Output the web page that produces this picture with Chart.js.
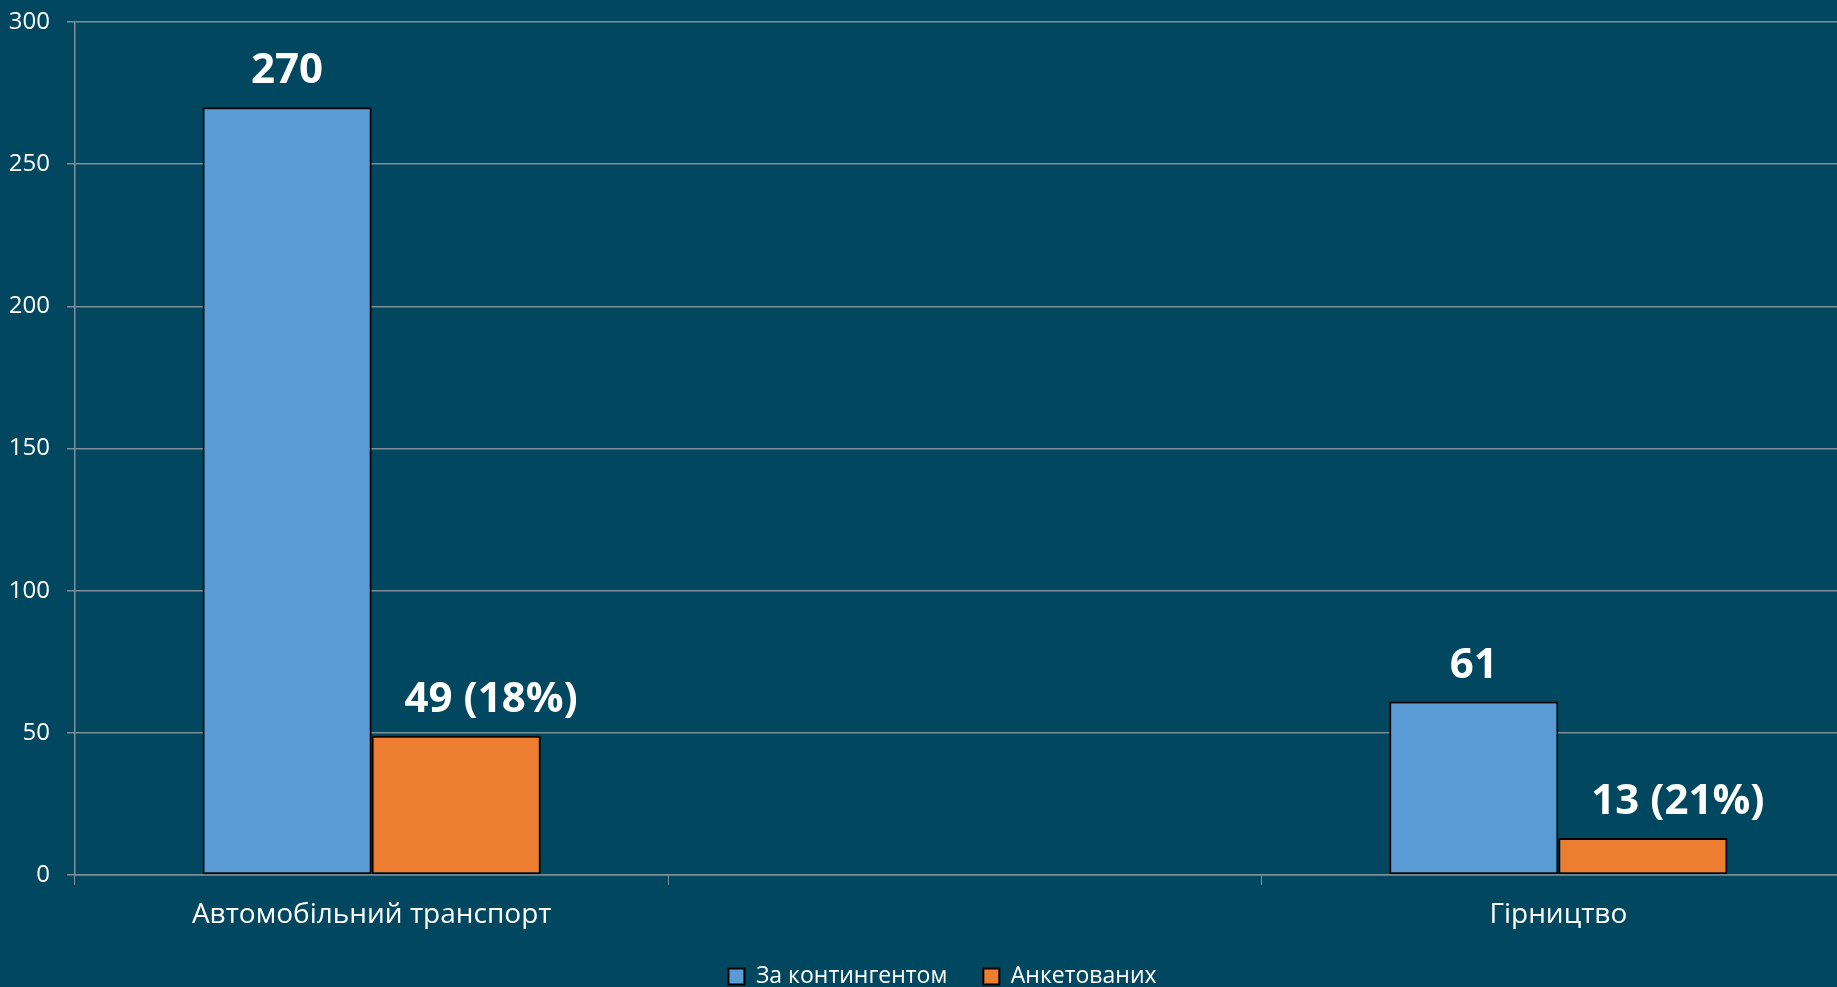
<!DOCTYPE html>
<html>
<head>
<meta charset="utf-8">
<script src="https://cdn.jsdelivr.net/npm/chart.js@4.4.0/dist/chart.umd.min.js"></script>
<style>
  html, body { margin: 0; padding: 0; background: #01475f; overflow: hidden; }
  canvas { display: block; }
</style>
</head>
<body>
<canvas id="chart" width="1855" height="998"></canvas>
<script>
const categories = ["Автомобільний транспорт", "", "Гірництво"];
const contingentValues = [270, null, 61];
const surveyedValues = [49, null, 13];
const yMin = 0;
const yMax = 300;
const yStep = 50;

const gridColor = "#7d8f98";
const font = "'Open Sans', 'Noto Sans', sans-serif";

// value labels above bars, second series gets the share of the first
const barLabels = {
  id: "barLabels",
  afterDatasetsDraw(chart) {
    const ctx = chart.ctx;
    ctx.save();
    ctx.font = "bold 42px " + font;
    ctx.fillStyle = "#ffffff";
    ctx.textAlign = "center";
    ctx.textBaseline = "alphabetic";
    chart.data.datasets.forEach((ds, di) => {
      chart.getDatasetMeta(di).data.forEach((bar, i) => {
        const v = ds.data[i];
        if (v == null) return;
        let text = String(v);
        let shift = 0;
        if (di == 1) {
          text = v + " (" + Math.round((v / contingentValues[i]) * 100) + "%)";
          shift = 35;
        }
        ctx.fillText(text, bar.x + shift, bar.y - 24);
      });
    });
    ctx.restore();
  },
};

// legend sits a bit right of the canvas centre in the original
const legendShift = {
  id: "legendShift",
  afterLayout(chart) {
    chart.legend.left += 15;
    chart.legend.right += 15;
  },
};

new Chart(document.getElementById("chart"), {
  type: "bar",
  data: {
    labels: categories,
    datasets: [
      {
        label: "За контингентом",
        data: contingentValues,
        backgroundColor: "#5b9bd5",
        borderColor: "#000000",
        borderWidth: 2,
        borderSkipped: false,
        categoryPercentage: 0.57,
        barPercentage: 1.0,
      },
      {
        label: "Анкетованих",
        data: surveyedValues,
        backgroundColor: "#ed7d31",
        borderColor: "#000000",
        borderWidth: 2,
        borderSkipped: false,
        categoryPercentage: 0.57,
        barPercentage: 1.0,
      },
    ],
  },
  plugins: [barLabels, legendShift],
  options: {
    responsive: false,
    animation: false,
    layout: { padding: { top: 22, right: 0, left: 0, bottom: 0 } },
    plugins: {
      tooltip: { enabled: false },
      legend: {
        position: "bottom",
        labels: {
          color: "#ffffff",
          font: { family: font, size: 23 },
          boxWidth: 16,
          boxHeight: 16,
          padding: 36,
        },
      },
    },
    scales: {
      x: {
        grid: {
          drawOnChartArea: false,
          drawTicks: true,
          tickLength: 10,
          color: gridColor,
          offset: true,
        },
        border: { display: true, color: gridColor, width: 1.5 },
        ticks: {
          color: "#ffffff",
          font: { family: font, size: 28 },
          padding: 13,
          maxRotation: 0,
        },
        afterFit(scale) {
          scale.height = 54;
        },
      },
      y: {
        min: yMin,
        max: yMax,
        ticks: {
          stepSize: yStep,
          color: "#ffffff",
          font: { family: font, size: 24 },
          padding: 17,
        },
        grid: { color: gridColor, tickLength: 8, lineWidth: 1.5 },
        border: { display: true, color: gridColor, width: 1.5 },
        afterFit(scale) {
          scale.width = 75;
          scale.paddingTop = 0;
          scale.paddingBottom = 0;
        },
      },
    },
  },
});
</script>
</body>
</html>
